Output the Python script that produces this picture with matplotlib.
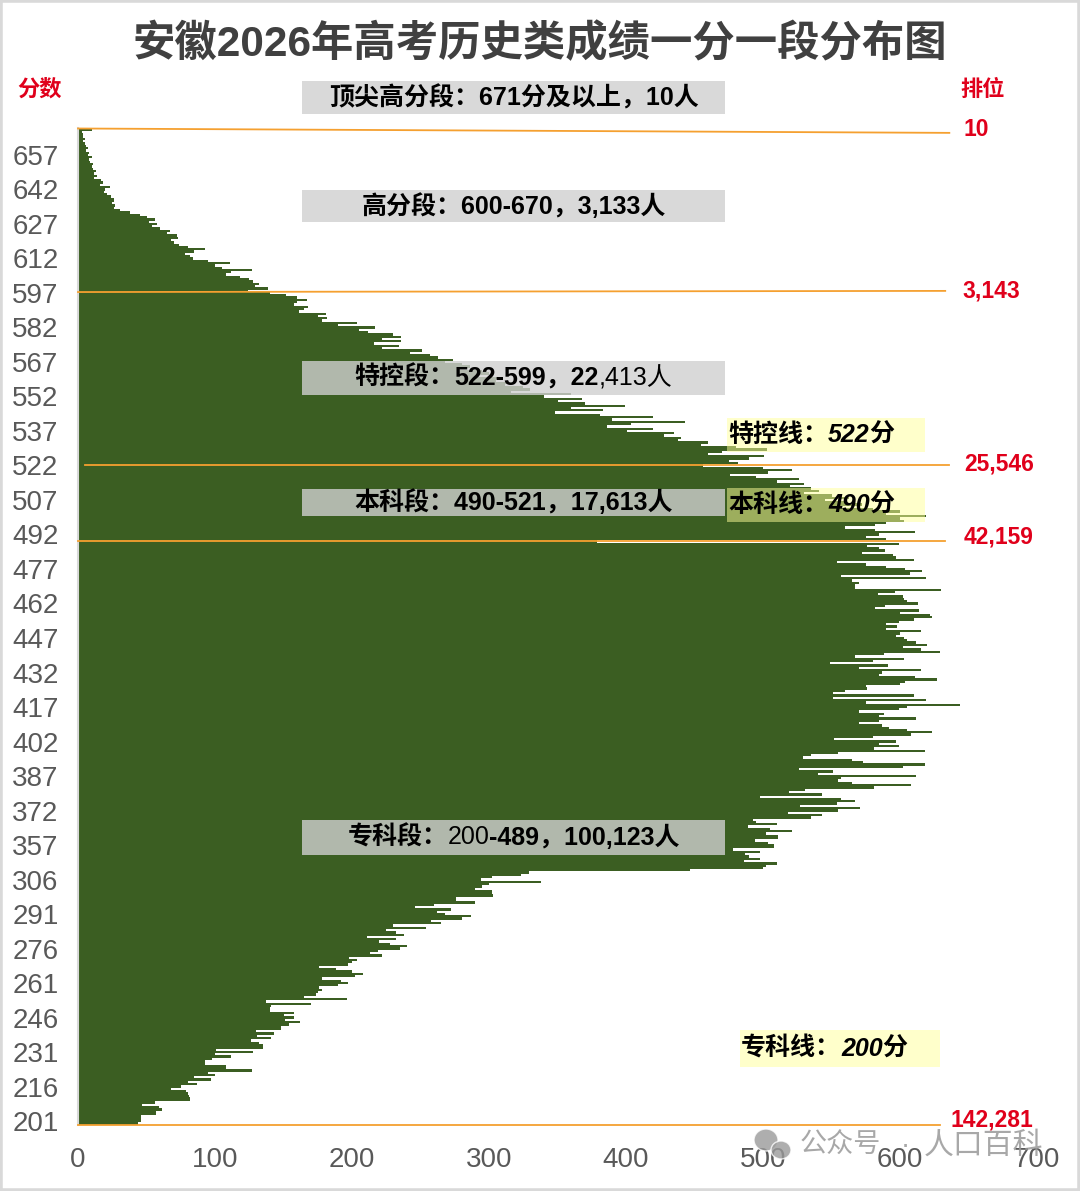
import matplotlib
matplotlib.use('Agg')
import matplotlib.pyplot as plt
from matplotlib.patches import Rectangle, Ellipse

plt.rcParams['font.family'] = ['Liberation Sans', 'Noto Sans CJK SC', 'DejaVu Sans']

W, H, DPI = 1080, 1191, 100

# ---------------- data ----------------
title = "安徽2026年高考历史类成绩一分一段分布图"
# score rows from top (671 = "671 and above") to bottom; some scores are absent in the source chart
scores = [671] + list(range(667, 345, -1)) + list(range(309, 199, -1))
counts = [
    10,
    3, 4, 4, 5, 4, 5, 6, 7, 6, 8, 7, 10, 8, 9, 11, 10, 11, 13, 12, 14, 12, 17, 18, 16, 23, 20,
    19, 21, 24, 26, 26, 25, 27, 26, 31, 38,
    45, 50, 56, 52, 58, 54, 60, 67, 65, 72, 73, 68, 70, 74, 80, 93, 85, 78, 82, 84, 95, 111, 100, 105,
    127, 112, 108, 118, 125, 128, 132, 129,
    139, 124, 140, 152, 160, 167, 160, 158, 168, 165, 161, 181,
    175, 182, 178, 204, 190, 217, 205, 212, 230, 236, 222, 236, 216, 234, 222, 251, 242, 257, 263, 274, 268,
    280, 286, 278, 295, 300, 292, 310, 305, 318, 312, 325, 330, 316, 360, 340, 368, 350, 370, 399, 360,
    383, 348, 381,
    420, 390, 443, 404, 386, 420, 401, 435, 428, 440, 438, 460, 455, 480, 503, 470, 460, 501, 490, 475,
    482, 456, 500, 521, 504, 476, 495, 526, 510, 530, 520, 535, 541, 530, 550, 563, 545, 560, 572, 555,
    580, 600, 590, 619,
    600, 603, 590, 582, 560, 582, 611, 585, 575, 590, 379, 599, 576, 585, 589, 572, 595, 597, 610, 554,
    575, 590, 604, 616, 607, 557, 619, 565, 570, 567, 567, 630, 596, 584, 602, 603, 605, 613, 589, 582,
    614, 600, 622,
    623, 610, 599, 590, 598, 590, 615, 600, 597, 603, 605, 612, 620, 602, 615, 629, 588, 567, 603, 580,
    549, 591, 570, 615, 587, 585, 611, 627, 604, 600, 575, 576, 560, 551, 610, 551, 619, 575, 644, 605,
    599, 570, 588, 585,
    612, 585, 570, 587, 592, 605, 623, 608, 580, 552, 597, 585, 599, 581, 618, 555, 535, 529, 565, 573,
    618, 602, 526, 551, 540, 612, 557, 555, 565, 608, 581, 531, 519, 543, 498, 557, 567, 554, 527, 571,
    555, 518, 543, 535,
    493, 495, 510, 489, 505, 521, 502, 511, 511, 494, 504, 508, 508, 478, 498, 487, 490, 498, 486, 510,
    502, 500, 447,
    329, 323, 302, 294, 338, 300, 295, 290, 302, 302, 303, 276,
    276, 290, 260, 246, 272, 262, 268, 287, 280, 258, 265, 230, 254, 225, 232, 238, 211, 232, 220, 228,
    240, 235, 219, 213, 222, 198, 204, 200, 197, 176, 188, 200, 208, 202, 178, 192, 197, 190, 176, 178,
    175, 174, 165,
    196, 137, 170, 141, 140, 140, 158, 150, 158, 151, 162, 154, 148, 148, 130, 143, 131, 141, 126, 132,
    135, 135, 101, 128, 100, 112, 98, 93, 93, 108, 108, 127, 95, 100, 85, 97, 80, 87, 75, 68,
    79, 80, 81, 82, 82, 56, 47, 59, 61, 57, 57, 46, 46, 46, 44,
]
ytick_scores = [657, 642, 627, 612, 597, 582, 567, 552, 537, 522, 507, 492, 477, 462, 447, 432,
                417, 402, 387, 372, 357, 306, 291, 276, 261, 246, 231, 216, 201]
xticks = [0, 100, 200, 300, 400, 500, 600, 700]
rank_labels = ["10", "3,143", "25,546", "42,159", "142,281"]

seg_runs = [
    [("顶尖高分段：671分及以上，10人", 'bold', 'normal')],
    [("高分段：600-670，3,133人", 'bold', 'normal')],
    [("特控段：", 'bold', 'normal'), ("522-599，22", 'bold', 'normal'), (",413人", 'normal', 'normal')],
    [("本科段：490-521，17,613人", 'bold', 'normal')],
    [("专科段：", 'bold', 'normal'), ("200", 'normal', 'normal'), ("-489，100,123人", 'bold', 'normal')],
]
line_runs = [
    [("特控线：", 'bold', 'normal'), ("522", 'bold', 'italic'), ("分", 'bold', 'normal')],
    [("本科线：", 'bold', 'normal'), ("490", 'bold', 'italic'), ("分", 'bold', 'normal')],
    [("专科线：", 'bold', 'normal'), ("200", 'bold', 'italic'), ("分", 'bold', 'normal')],
]

# ---------------- layout ----------------
fig = plt.figure(figsize=(W / DPI, H / DPI), dpi=DPI)
fig.patch.set_facecolor('white')


def px(x, y):
    return (x / W, 1 - y / H)


ax_top, ax_bot = 128.5, 1124.5
ax = fig.add_axes([78 / W, 1 - ax_bot / H, 959 / W, (ax_bot - ax_top) / H])
pos = list(range(len(scores)))
ax.barh(pos, counts, height=1.0, color='#3b5e22', edgecolor='none', zorder=2)
ax.set_xlim(0, 700)
ax.set_ylim(len(scores) - 0.5, -0.5)
ax.set_yticks([scores.index(s) for s in ytick_scores])
ax.set_yticklabels([str(s) for s in ytick_scores])
ax.set_xticks(xticks)
ax.set_xticklabels([str(v) for v in xticks])
ax.tick_params(axis='y', length=0, pad=14, labelsize=20, labelcolor='#595959')
ax.tick_params(axis='x', length=0, pad=16, labelsize=20, labelcolor='#595959')
for side in ['top', 'right', 'bottom']:
    ax.spines[side].set_visible(False)
ax.spines['left'].set_color('#d9d9d9')
ax.spines['left'].set_linewidth(1.5)

# orange rank lines (row-index coordinates)
line_geom = [((0, -0.5), (636, 1.4)), ((0, 70.6), (633, 70.1)), ((5, 145.7), (636, 145.7)),
             ((0, 178.9), (633, 178.9)), ((0, 432.7), (629, 432.7))]
for (x0, y0), (x1, y1) in line_geom:
    ax.plot([x0, x1], [y0, y1], color='#f5a030', lw=1.3, zorder=4, clip_on=False)

# rank labels
rank_pos = [(976, 129), (991, 291), (999, 464), (999, 537), (992, 1120)]
for lab, (x, y) in zip(rank_labels, rank_pos):
    fig.text(*px(x, y), lab, ha='center', va='center', fontsize=16.5, fontweight='bold', color='#e0001b')

fig.text(*px(40, 90), "分数", ha='center', va='center', fontsize=16, fontweight='bold', color='#e0001b')
fig.text(*px(983, 90), "排位", ha='center', va='center', fontsize=16, fontweight='bold', color='#e0001b')

fig.text(*px(540, 44), title, ha='center', va='center', fontsize=30.5, fontweight='bold', color='#404040')


def add_box(x0, y0, x1, y1, color, alpha):
    r = Rectangle(px(x0, y1), (x1 - x0) / W, (y1 - y0) / H, transform=fig.transFigure,
                  facecolor=color, edgecolor='none', alpha=alpha, zorder=3)
    fig.add_artist(r)


renderer = fig.canvas.get_renderer()


def runs_text(runs, x, y, align='center', size=18):
    texts = []
    for s, weight, style in runs:
        t = fig.text(0, 0, s, fontsize=size, fontweight=weight, fontstyle=style,
                     va='center', ha='left', color='black', zorder=6)
        texts.append(t)
    widths = [t.get_window_extent(renderer=renderer).width for t in texts]
    cur = x - sum(widths) / 2 if align == 'center' else x
    for t, w in zip(texts, widths):
        t.set_position(px(cur, y))
        cur += w


seg_boxes = [(302, 81, 725, 114), (302, 190, 725, 222), (302, 361, 725, 395),
             (302, 489, 725, 516), (302, 820, 725, 855)]
for runs, (x0, y0, x1, y1) in zip(seg_runs, seg_boxes):
    add_box(x0, y0, x1, y1, '#d0d0d0', 0.8)
    runs_text(runs, (x0 + x1) / 2, (y0 + y1) / 2, 'center', 18)

line_boxes = [(727, 418, 925, 452), (727, 488, 925, 522), (740, 1030, 940, 1067)]
for runs, (x0, y0, x1, y1) in zip(line_runs, line_boxes):
    add_box(x0, y0, x1, y1, '#ffff99', 0.5)
    runs_text(runs, x0 + 1, (y0 + y1) / 2, 'left', 18)

# watermark
for (cx, cy, rw, rh) in [(766, 1140, 24, 22), (781, 1150, 20, 18)]:
    e = Ellipse(px(cx, cy), rw / W, rh / H, transform=fig.transFigure, facecolor='#9a9a9a',
                edgecolor='white', lw=1, alpha=0.8, zorder=7)
    fig.add_artist(e)
fig.text(*px(800, 1146), "公众号", ha='left', va='center', fontsize=19.5,
         color='#999999', alpha=0.85, zorder=7)
fig.text(*px(905, 1146), "·", ha='center', va='center', fontsize=19.5,
         color='#999999', alpha=0.85, zorder=7)
fig.text(*px(924, 1146), "人口百科", ha='left', va='center', fontsize=21.5,
         color='#999999', alpha=0.85, zorder=7)

# figure border
fig.add_artist(Rectangle((0, 0), 1, 1, transform=fig.transFigure, facecolor='none',
                         edgecolor='#d9d9d9', lw=4, zorder=10))

fig.savefig('out.png', dpi=DPI)
